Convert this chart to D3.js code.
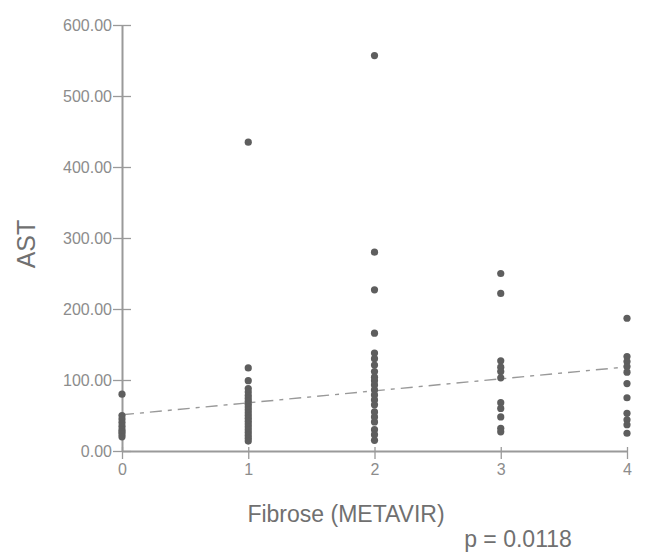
<!DOCTYPE html>
<html>
<head>
<meta charset="utf-8">
<script src="https://cdn.jsdelivr.net/npm/d3@7"></script>
<style>
  body { margin: 0; background: #fff; }
  text { font-family: "Liberation Sans", Arial, sans-serif; }
</style>
</head>
<body>
<svg id="chart" width="669" height="556"></svg>
<script>
// AST values per fibrosis stage
var stages = [0, 1, 2, 3, 4];
var ast0 = [80, 50, 45, 40, 35, 30, 27, 24, 20];
var ast1 = [435, 117, 99, 88, 83, 78, 74, 70, 66, 62, 58, 54, 50, 46, 42, 38, 34, 30, 26, 22, 18, 14];
var ast2 = [557, 280, 227, 166, 138, 130, 121, 112, 104, 99, 93, 86, 79, 72, 65, 55, 48, 41, 30, 23, 15];
var ast3 = [250, 222, 127, 118, 112, 103, 68, 60, 48, 32, 27];
var ast4 = [187, 133, 126, 119, 111, 95, 75, 53, 44, 37, 25];
var yTicks = [0, 100, 200, 300, 400, 500, 600];
var fitStart = 51, fitEnd = 118.5;   // regression line at stage 0 and stage 4
var pText = 'p = 0.0118';

var svg = d3.select('#chart');

var x = d3.scaleLinear().domain([0, 4]).range([122, 627]),
    y = d3.scaleLinear().domain([0, 600]).range([451, 25]);

var points = [];
[ast0, ast1, ast2, ast3, ast4].forEach(function(vals, i) {
  vals.forEach(function(v) { points.push({stage: stages[i], ast: v}); });
});

// axes
var yAxis = d3.axisLeft(y).tickValues(yTicks).tickFormat(d3.format('.2f'))
              .tickSizeInner(9).tickSizeOuter(0);
var xAxis = d3.axisBottom(x).tickValues(stages).tickFormat(d3.format('d'))
              .tickSizeInner(8).tickSizeOuter(0);

var gy = svg.append('g').attr('transform', 'translate(' + x(0) + ',0)').call(yAxis);
var gx = svg.append('g').attr('transform', 'translate(0,' + y(0) + ')').call(xAxis);

[gy, gx].forEach(function(g) {
  g.select('.domain').attr('stroke', '#9a9a9a').attr('stroke-width', 2);
  g.selectAll('.tick line').attr('stroke', '#9a9a9a').attr('stroke-width', 1.3);
  g.selectAll('.tick text').attr('fill', '#8c8c8c').attr('font-size', 16)
   .attr('font-family', '"Liberation Sans", Arial, sans-serif');
});
// y ticks cross the axis line
gy.selectAll('.tick line').attr('x1', 9);
gy.selectAll('.tick text').attr('x', -10);
gx.selectAll('.tick line').attr('y1', -4);
gx.selectAll('.tick text').attr('y', 13);

// regression line
svg.append('line')
   .attr('x1', x(0)).attr('y1', y(fitStart))
   .attr('x2', x(4)).attr('y2', y(fitEnd))
   .attr('stroke', '#999').attr('stroke-width', 1.4)
   .attr('stroke-dasharray', '12,6,4,6');

// points
svg.append('g').selectAll('circle')
   .data(points)
   .enter()
   .append('circle')
   .attr('cx', d => x(d.stage))
   .attr('cy', d => y(d.ast))
   .attr('r', 3.6)
   .attr('fill', '#5e5e5e');

// labels
svg.append('text')
   .attr('transform', 'translate(35,244) rotate(-90)')
   .attr('text-anchor', 'middle')
   .attr('font-size', 25).attr('fill', '#707070')
   .text('AST');

svg.append('text')
   .attr('x', 346).attr('y', 522)
   .attr('text-anchor', 'middle')
   .attr('font-size', 23).attr('fill', '#707070')
   .text('Fibrose (METAVIR)');

svg.append('text')
   .attr('x', 518).attr('y', 547)
   .attr('text-anchor', 'middle')
   .attr('font-size', 23).attr('fill', '#707070')
   .text(pText);
</script>
</body>
</html>
